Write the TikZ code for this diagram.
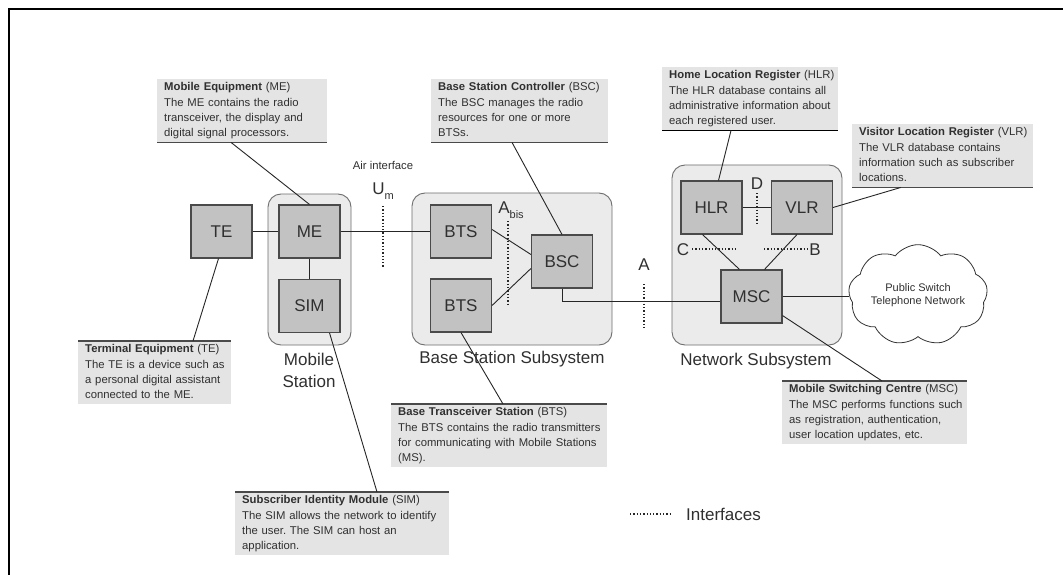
\documentclass[tikz,border=0pt]{standalone}
\usepackage{fontspec}
\setmainfont{Liberation Sans}
\usetikzlibrary{shapes.symbols,calc}
\definecolor{boxfill}{HTML}{C2C2C2}
\definecolor{boxdraw}{HTML}{4A4A4A}
\definecolor{grpfill}{HTML}{EBEBEB}
\definecolor{grpdraw}{HTML}{6E6E6E}
\definecolor{calfill}{HTML}{E4E4E4}
\definecolor{calline}{HTML}{4A4A4A}
\definecolor{txt}{HTML}{303030}
\newcommand{\caltext}[1]{\begin{tabular}{@{}l@{}}#1\end{tabular}}
\frenchspacing
\begin{document}
\begin{tikzpicture}[x=1pt,y=-1pt,
  unit/.style={draw=boxdraw, fill=boxfill, line width=1.1pt, minimum width=61pt, minimum height=53pt, inner sep=0pt, font=\fontsize{17}{20}\selectfont, text=txt},
  group/.style={draw=grpdraw, fill=grpfill, rounded corners=13pt, line width=0.9pt, inner sep=0pt},
  callout/.style={fill=calfill, anchor=north west, inner xsep=7pt, inner ysep=1pt, align=left, font=\fontsize{11.3}{15.2}\selectfont, text=txt, minimum height=63pt},
  calbar/.style={draw=calline, line width=1.6pt},
  conn/.style={draw=black!85, line width=0.9pt},
  iface/.style={draw=black!85, line width=1.3pt, dotted},
  lbl/.style={font=\fontsize{17}{22}\selectfont, text=txt, inner sep=0pt, align=center},
  smalllbl/.style={font=\fontsize{11.3}{14}\selectfont, text=txt, inner sep=0pt}
]
\useasboundingbox (0,0) rectangle (1063,575);
\fill[white] (0,0) rectangle (1063,575);
% frame
\draw[line width=2pt] (9,575) -- (9,9) -- (1063,9);

% containers
\node[group, minimum width=83pt, minimum height=151pt] (ms) at (309.5,269.5) {};
\node[group, minimum width=200pt, minimum height=152pt] (bss) at (512,269) {};
\node[group, minimum width=170pt, minimum height=180pt] (nss) at (757,255) {};

% units
\node[unit] (te) at (221.5,231.5) {TE};
\node[unit] (me) at (309.5,231.5) {ME};
\node[unit] (sim) at (309.5,306) {SIM};
\node[unit] (bts1) at (461,231.5) {BTS};
\node[unit] (bts2) at (461,305.5) {BTS};
\node[unit] (bsc) at (562,261.5) {BSC};
\node[unit] (hlr) at (711.5,207.5) {HLR};
\node[unit] (vlr) at (802,207.5) {VLR};
\node[unit] (msc) at (751.5,296.5) {MSC};
\node[cloud, draw=black!80, fill=white, line width=0.8pt, cloud puffs=9, cloud puff arc=105, aspect=1.6, minimum width=130pt, minimum height=82pt, inner sep=0pt, align=center, font=\fontsize{11}{13.5}\selectfont, text=txt] (pstn) at (918,295) {Public Switch\\Telephone Network};

% links
\draw[conn] (te.east) -- (me.west);
\draw[conn] (me.south) -- (sim.north);
\draw[conn] (me.east) -- (bts1.west);
\draw[conn] ([yshift=2pt]bts1.east) -- ([yshift=7pt]bsc.west);
\draw[conn] (bts2.east) -- ([yshift=-7pt]bsc.west);
\draw[conn] (bsc.south) |- ([yshift=-4.5pt]msc.west);
\draw[conn] (hlr.east) -- (vlr.west);
\draw[conn] ([xshift=-9pt]hlr.south) -- ([xshift=-12pt]msc.north);
\draw[conn] ([xshift=-5pt]vlr.south) -- ([xshift=13pt]msc.north);
\draw[conn] (msc.east) -- (msc.east -| pstn.west);

% interfaces
\draw[iface] (383,206) -- (383,268);
\draw[iface] (508,221) -- (508,305);
\draw[iface] (644,284) -- (644,328);
\draw[iface] (757,193) -- (757,225);
\draw[iface] (692,249) -- (737,249);
\draw[iface] (764,249) -- (809,249);
\draw[iface] (630,514) -- (671,514);

% interface labels
\node[smalllbl] (air) at (383,165) {Air interface};
\node[lbl] (um) at (383,191) {U\raisebox{-0.55ex}{\fontsize{11}{11}\selectfont m}};
\node[lbl] (abis) at (511,210) {A\raisebox{-0.6ex}{\fontsize{11}{11}\selectfont bis}};
\node[lbl] (ia) at (644,265) {A};
\node[lbl] (id) at (757,184) {D};
\node[lbl] (ic) at (683,250) {C};
\node[lbl] (ib) at (815,250) {B};
\node[lbl, anchor=west] (leg) at (686,514) {Interfaces};

% group titles
\node[lbl] (mst) at (309,370) {Mobile\\Station};
\node[lbl] (bsst) at (512,359) {Base Station Subsystem};
\node[lbl] (nsst) at (756,361) {Network Subsystem};

% callouts above
\node[callout, text width=156pt] (mec) at (157,79) {\caltext{\textbf{Mobile Equipment} (ME)\\The ME contains the radio\\transceiver, the display and\\digital signal processors.}};
\draw[calbar] (mec.south west) -- (mec.south east);
\node[callout, text width=163pt] (bscc) at (431,79) {\caltext{\textbf{Base Station Controller} (BSC)\\The BSC manages the radio\\resources for one or more\\BTSs.}};
\draw[calbar] (bscc.south west) -- (bscc.south east);
\node[callout, text width=162pt] (hlrc) at (662,67) {\caltext{\textbf{Home Location Register} (HLR)\\The HLR database contains all\\administrative information about\\each registered user.}};
\draw[calbar, draw=black] (hlrc.south west) -- (hlrc.south east);
\node[callout, text width=167pt] (vlrc) at (852,124) {\caltext{\textbf{Visitor Location Register} (VLR)\\The VLR database contains\\information such as subscriber\\locations.}};
\draw[calbar] (vlrc.south west) -- (vlrc.south east);

% callouts below
\node[callout, text width=139pt] (tec) at (78,341) {\caltext{\textbf{Terminal Equipment} (TE)\\The TE is a device such as\\a personal digital assistant\\connected to the ME.}};
\draw[calbar] (tec.north west) -- (tec.north east);
\node[callout, text width=202pt] (btsc) at (391,404) {\caltext{\textbf{Base Transceiver Station} (BTS)\\The BTS contains the radio transmitters\\for communicating with Mobile Stations\\(MS).}};
\draw[calbar] (btsc.north west) -- (btsc.north east);
\node[callout, text width=200pt] (simc) at (235,492) {\caltext{\textbf{Subscriber Identity Module} (SIM)\\The SIM allows the network to identify\\the user. The SIM can host an\\application.}};
\draw[calbar] (simc.north west) -- (simc.north east);
\node[callout, text width=171pt] (mscc) at (782,381) {\caltext{\textbf{Mobile Switching Centre} (MSC)\\The MSC performs functions such\\as registration, authentication,\\user location updates, etc.}};
\draw[calbar] (mscc.north west) -- (mscc.north east);

% callout leaders
\draw[conn] ([xshift=74pt]mec.south west) -- (me.north);
\draw[conn] ([xshift=81pt]bscc.south west) -- (bsc.north);
\draw[conn] ([xshift=69pt]hlrc.south west) -- ([xshift=7pt]hlr.north);
\draw[conn] (vlr.east) -- ([xshift=49pt]vlrc.south west);
\draw[conn] ([xshift=-3pt]te.south) -- ([xshift=115pt]tec.north west);
\draw[conn] ([xshift=-11pt]sim.south east) -- ([xshift=142pt]simc.north west);
\draw[conn] (bts2.south) -- ([xshift=112pt]btsc.north west);
\draw[conn] ([yshift=8pt]msc.south east) -- ([xshift=100pt]mscc.north west);
\end{tikzpicture}
\end{document}
